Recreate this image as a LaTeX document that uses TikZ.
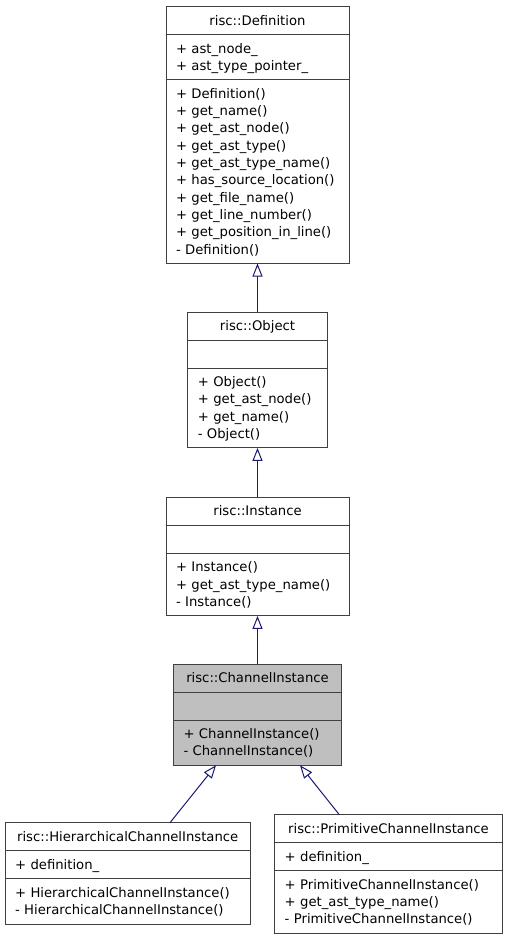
\documentclass[tikz,border=0pt]{standalone}
\usepackage{fontspec}
\newfontfamily\dejavu{DejaVu Sans}
\usetikzlibrary{positioning,arrows.meta}
\definecolor{boxline}{HTML}{404040}
\definecolor{edgeblue}{HTML}{191970}
\definecolor{curfill}{HTML}{BFBFBF}
\newcommand{\member}[1]{\mbox{\rule[-4.08pt]{0pt}{17.3pt}#1}}
\tikzset{
  field/.style={draw=boxline, fill=white, line width=1pt, inner xsep=10pt,
    inner ysep=5.35pt, outer sep=0pt, font={\dejavu\fontsize{13.2}{17.3}\selectfont}},
  head/.style={field, text width=#1, align=center},
  body/.style={field, text width=#1, align=left},
  current/.style={fill=curfill},
  inherit/.style={draw=edgeblue, line width=1pt, -{Triangle[open, length=13pt, width=10pt]}}
}
\begin{document}
\begin{tikzpicture}[x=1pt, y=1pt]
  \useasboundingbox (0,0) rectangle (507,-939);
  % risc::Definition
  \node[head=163pt, anchor=north] (def) at (257.5,-6.5) {\member{risc::Definition}};
  \node[body=163pt, below=0pt of def] (defattr)
    {\member{+ ast\_node\_}\\\member{+ ast\_type\_pointer\_}};
  \node[body=163pt, below=0pt of defattr] (defops)
    {\member{+ Definition()}\\\member{+ get\_name()}\\\member{+ get\_ast\_node()}\\
     \member{+ get\_ast\_type()}\\\member{+ get\_ast\_type\_name()}\\
     \member{+ has\_source\_location()}\\\member{+ get\_file\_name()}\\
     \member{+ get\_line\_number()}\\\member{+ get\_position\_in\_line()}\\
     \member{- Definition()}};
  % risc::Object
  \node[head=119.4pt, anchor=north] (obj) at (257.5,-312) {\member{risc::Object}};
  \node[body=119.4pt, below=0pt of obj] (objattr) {\member{}};
  \node[body=119.4pt, below=0pt of objattr] (objops)
    {\member{+ Object()}\\\member{+ get\_ast\_node()}\\\member{+ get\_name()}\\
     \member{- Object()}};
  % risc::Instance
  \node[head=163pt, anchor=north] (inst) at (257.5,-497.3) {\member{risc::Instance}};
  \node[body=163pt, below=0pt of inst] (instattr) {\member{}};
  \node[body=163pt, below=0pt of instattr] (instops)
    {\member{+ Instance()}\\\member{+ get\_ast\_type\_name()}\\\member{- Instance()}};
  % risc::ChannelInstance
  \node[head=148pt, current, anchor=north] (chan) at (257.5,-664) {\member{risc::ChannelInstance}};
  \node[body=148pt, current, below=0pt of chan] (chanattr) {\member{}};
  \node[body=148pt, current, below=0pt of chanattr] (chanops)
    {\member{+ ChannelInstance()}\\\member{- ChannelInstance()}};
  % risc::HierarchicalChannelInstance
  \node[head=225.3pt, anchor=north] (hier) at (127.7,-822.7)
    {\member{risc::HierarchicalChannelInstance}};
  \node[body=225.3pt, below=0pt of hier] (hierattr) {\member{+ definition\_}};
  \node[body=225.3pt, below=0pt of hierattr] (hierops)
    {\member{+ HierarchicalChannelInstance()}\\\member{- HierarchicalChannelInstance()}};
  % risc::PrimitiveChannelInstance
  \node[head=207.6pt, anchor=north] (prim) at (388.5,-814.7)
    {\member{risc::PrimitiveChannelInstance}};
  \node[body=207.6pt, below=0pt of prim] (primattr) {\member{+ definition\_}};
  \node[body=207.6pt, below=0pt of primattr] (primops)
    {\member{+ PrimitiveChannelInstance()}\\\member{+ get\_ast\_type\_name()}\\
     \member{- PrimitiveChannelInstance()}};
  % inheritance
  \draw[inherit] (obj.north) -- (defops.south);
  \draw[inherit] (inst.north) -- (objops.south);
  \draw[inherit] (chan.north) -- (instops.south);
  \draw[inherit] ([xshift=42.3pt]hier.north) -- ([xshift=-41.5pt]chanops.south);
  \draw[inherit] ([xshift=-49.2pt]prim.north) -- ([xshift=42.5pt]chanops.south);
\end{tikzpicture}
\end{document}
